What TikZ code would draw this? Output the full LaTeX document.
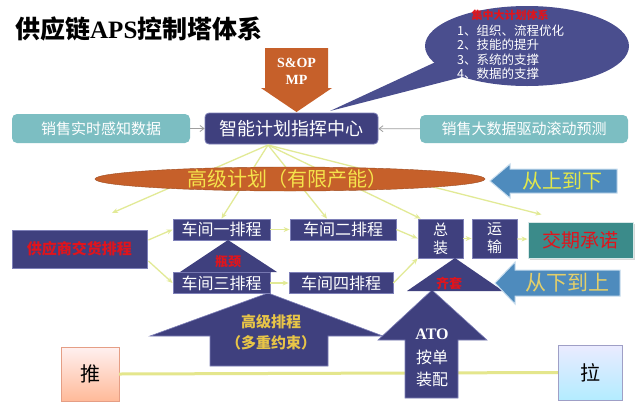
\documentclass[tikz,border=0pt]{standalone}
\usepackage{fontspec}
\setmainfont{Liberation Serif}
\newfontfamily\cjk{Noto Sans CJK SC}
\usetikzlibrary{shapes.geometric,arrows.meta,calc,shadows}
\newcommand\fsz[1]{\fontsize{#1}{#1}\selectfont}
\definecolor{navy}{HTML}{3F407E}
\definecolor{navyedge}{HTML}{7E80B8}
\definecolor{callc}{HTML}{4A4E8E}
\definecolor{tealc}{HTML}{7CBEC2}
\definecolor{orng}{HTML}{C6602A}
\definecolor{ylw}{HTML}{F5E34B}
\definecolor{steel}{HTML}{4E8BBD}
\definecolor{steeledge}{HTML}{C8DDEE}
\definecolor{lineY}{HTML}{E2EA96}
\definecolor{lineB}{HTML}{E4E68C}
\definecolor{gold}{HTML}{E8C547}
\definecolor{redtxt}{HTML}{E0141C}
\definecolor{delivc}{HTML}{3B8B8A}
\definecolor{downtxt}{HTML}{E3CF6A}
\definecolor{uptxt}{HTML}{E2E84A}
\begin{document}
\begin{tikzpicture}[x=1pt,y=-1pt,font=\cjk,
  tealbox/.style={fill=tealc, rounded corners=5pt, text=white, inner sep=0pt, font=\cjk\fsz{15}},
  navybox/.style={fill=navy, draw=navyedge, line width=0.8pt, text=white, inner sep=0pt, font=\cjk\fsz{16}},
  yl/.style={draw=lineY, line width=1.3pt, -{Stealth[length=6pt,width=5pt]}},
  gl/.style={draw=gray!75, line width=0.8pt, -{Straight Barb[length=4pt,width=6pt]}},
  bigarrow/.style={fill=navy, draw=navyedge, line width=0.6pt},
  bluearrow/.style={fill=steel, draw=steeledge, line width=1pt},
  txt/.style={inner sep=0pt}
]
\useasboundingbox[fill=white] (0,0) rectangle (640,408);

% title
\node[txt, anchor=west, font=\cjk\bfseries\fsz{25}] (title) at (15,29) {供应链{\rmfamily\bfseries APS}控制塔体系};

% callout
\fill[callc] (330,111) -- (440,60) -- (466,76) -- cycle;
\node[ellipse, fill=callc, minimum width=204, minimum height=80, inner sep=0pt] (callout) at (527,46) {};
\node[txt, font=\cjk\bfseries\fsz{11}, text=redtxt] (ctitle) at (510,15) {集中大计划体系};
\node[txt, anchor=west, font=\cjk\fsz{12.5}, text=white] (c1) at (457,31) {1、组织、流程优化};
\node[txt, anchor=west, font=\cjk\fsz{12.5}, text=white] (c2) at (457,45) {2、技能的提升};
\node[txt, anchor=west, font=\cjk\fsz{12.5}, text=white] (c3) at (457,60) {3、系统的支撑};
\node[txt, anchor=west, font=\cjk\fsz{12.5}, text=white] (c4) at (457,74) {4、数据的支撑};

% S&OP arrow
\fill[orng] (265,48) -- (328,48) -- (328,88) -- (332,88) -- (296.5,112) -- (261,88) -- (265,88) -- cycle;
\node[txt, font=\rmfamily\bfseries\fontsize{14}{17}\selectfont, text=white, align=center] (sop) at (296.5,71.5) {S\&OP\\MP};

% top boxes
\node[tealbox, minimum width=178, minimum height=29] (lsense) at (101,128.5) {销售实时感知数据};
\node[tealbox, minimum width=208, minimum height=28] (rpred) at (524,129) {销售大数据驱动滚动预测};
\node[navybox, rounded corners=4pt, minimum width=173, minimum height=31, font=\cjk\fsz{18}] (center) at (291.5,128.5) {智能计划指挥中心};
\draw[gl] (lsense) -- (center);
\draw[gl] (rpred) -- (center);

% row nodes (defined early for connectors)
\node[navybox, minimum width=135, minimum height=38, text=redtxt, font=\cjk\bfseries\fsz{15}] (supp) at (79.5,249) {供应商交货排程};
\node[navybox, minimum width=97, minimum height=21] (w1) at (221.5,229.5) {车间一排程};
\node[navybox, minimum width=106, minimum height=21] (w2) at (343,229.5) {车间二排程};
\node[navybox, minimum width=45, minimum height=39, align=center, font=\cjk\fontsize{15}{18}\selectfont] (asm) at (440.5,238.5) {总\\装};
\node[navybox, minimum width=45, minimum height=39, align=center, font=\cjk\fontsize{15}{18}\selectfont] (trans) at (494.5,238.5) {运\\输};
\node[fill=delivc, draw=white!80!delivc, line width=1pt, drop shadow={opacity=0.3}, minimum width=105, minimum height=36, inner sep=0pt, text=redtxt, font=\cjk\fsz{19}] (deliv) at (580.5,240) {交期承诺};

% hub connectors
\coordinate (hub) at (268,145);
\coordinate (supA) at (112,213);
\draw[yl] (hub) -- (supA);
\draw[yl] (hub) -- (w1.north);
\draw[yl] (hub) -- ($(w2.north)+(-16,0)$);
\draw[yl] (hub) -- ($(asm.north west)+(3,0)$);
\draw[yl] (hub) -- ($(deliv.north west)+(14,-7)$);

% orange ellipse
\node[ellipse, fill=orng, draw=orng!80!black, minimum width=390, minimum height=24, inner sep=0pt] (hpbg) at (290,179) {};
\node[txt, font=\cjk\fsz{20}, text=ylw] (hp) at (287,179) {高级计划（有限产能）};

% from top to bottom arrow
\filldraw[bluearrow] (490,181) -- (510,164) -- (510,169) -- (617,169) -- (617,193) -- (510,193) -- (510,198) -- cycle;
\node[txt, font=\cjk\fsz{20}, text=uptxt] (topdown) at (562,181) {从上到下};

% bottom push-pull line
\node[draw=white!70!red!60!brown, top color=red!6, bottom color=red!35!orange!40, minimum width=58, minimum height=54, inner sep=0pt, font=\cjk\fsz{20}] (push) at (90,374) {推};
\node[draw=blue!25!gray!60, top color=blue!8, bottom color=blue!25!cyan!30, minimum width=64, minimum height=55, inner sep=0pt, font=\cjk\fsz{20}] (pull) at (590,372.5) {拉};
\draw[draw=lineB, line width=3pt] (push.east) -- (pull.west);

% big up arrows
\filldraw[bigarrow] (268,293) -- (383,336) -- (328,336) -- (328,366) -- (210,366) -- (210,336) -- (150,336) -- cycle;
\node[txt, font=\cjk\bfseries\fsz{15}, text=gold] (adv1) at (271,322) {高级排程};
\node[txt, font=\cjk\bfseries\fsz{15}, text=gold] (adv2) at (271,343) {（多重约束）};
\filldraw[bigarrow] (432,290) -- (487,340) -- (458,340) -- (458,398) -- (405,398) -- (405,340) -- (378,340) -- cycle;
\node[txt, font=\rmfamily\bfseries\fsz{16}, text=white] (ato1) at (432,334) {ATO};
\node[txt, font=\cjk\fsz{16}, text=white] (ato2) at (432,357) {按单};
\node[txt, font=\cjk\fsz{16}, text=white] (ato3) at (432,379) {装配};

% lower row
\node[navybox, minimum width=97, minimum height=21] (w3) at (221.5,283) {车间三排程};
\node[navybox, minimum width=104, minimum height=21] (w4) at (341,283) {车间四排程};

% triangles
\fill[navy] (228,240) -- (277,272) -- (180,272) -- cycle;
\node[txt, font=\cjk\bfseries\fsz{13}, text=redtxt] (bott) at (228,262) {瓶颈};
\fill[navy] (455,258) -- (503,291) -- (407,291) -- cycle;
\node[txt, font=\cjk\bfseries\fsz{13}, text=redtxt] (kit) at (449,283) {齐套};

% bottom-up arrow
\filldraw[bluearrow] (495,283) -- (515,262) -- (515,270) -- (620,270) -- (620,296) -- (515,296) -- (515,304) -- cycle;
\node[txt, font=\cjk\fsz{21}, text=downtxt] (bottomup) at (567,283) {从下到上};

% row connectors
\draw[yl] ($(supp.east)+(1,-9)$) -- (w1.west);
\draw[yl] ($(supp.east)+(1,12)$) -- (w3.west);
\draw[yl] (w1) -- (w2);
\draw[yl] (w3) -- (w4);
\draw[yl] (w2.east) -- (asm.west);
\draw[yl] (w4.east) -- (asm.south west);
\draw[yl] (asm) -- (trans);
\draw[yl] (trans) -- (deliv);
\end{tikzpicture}
\end{document}
